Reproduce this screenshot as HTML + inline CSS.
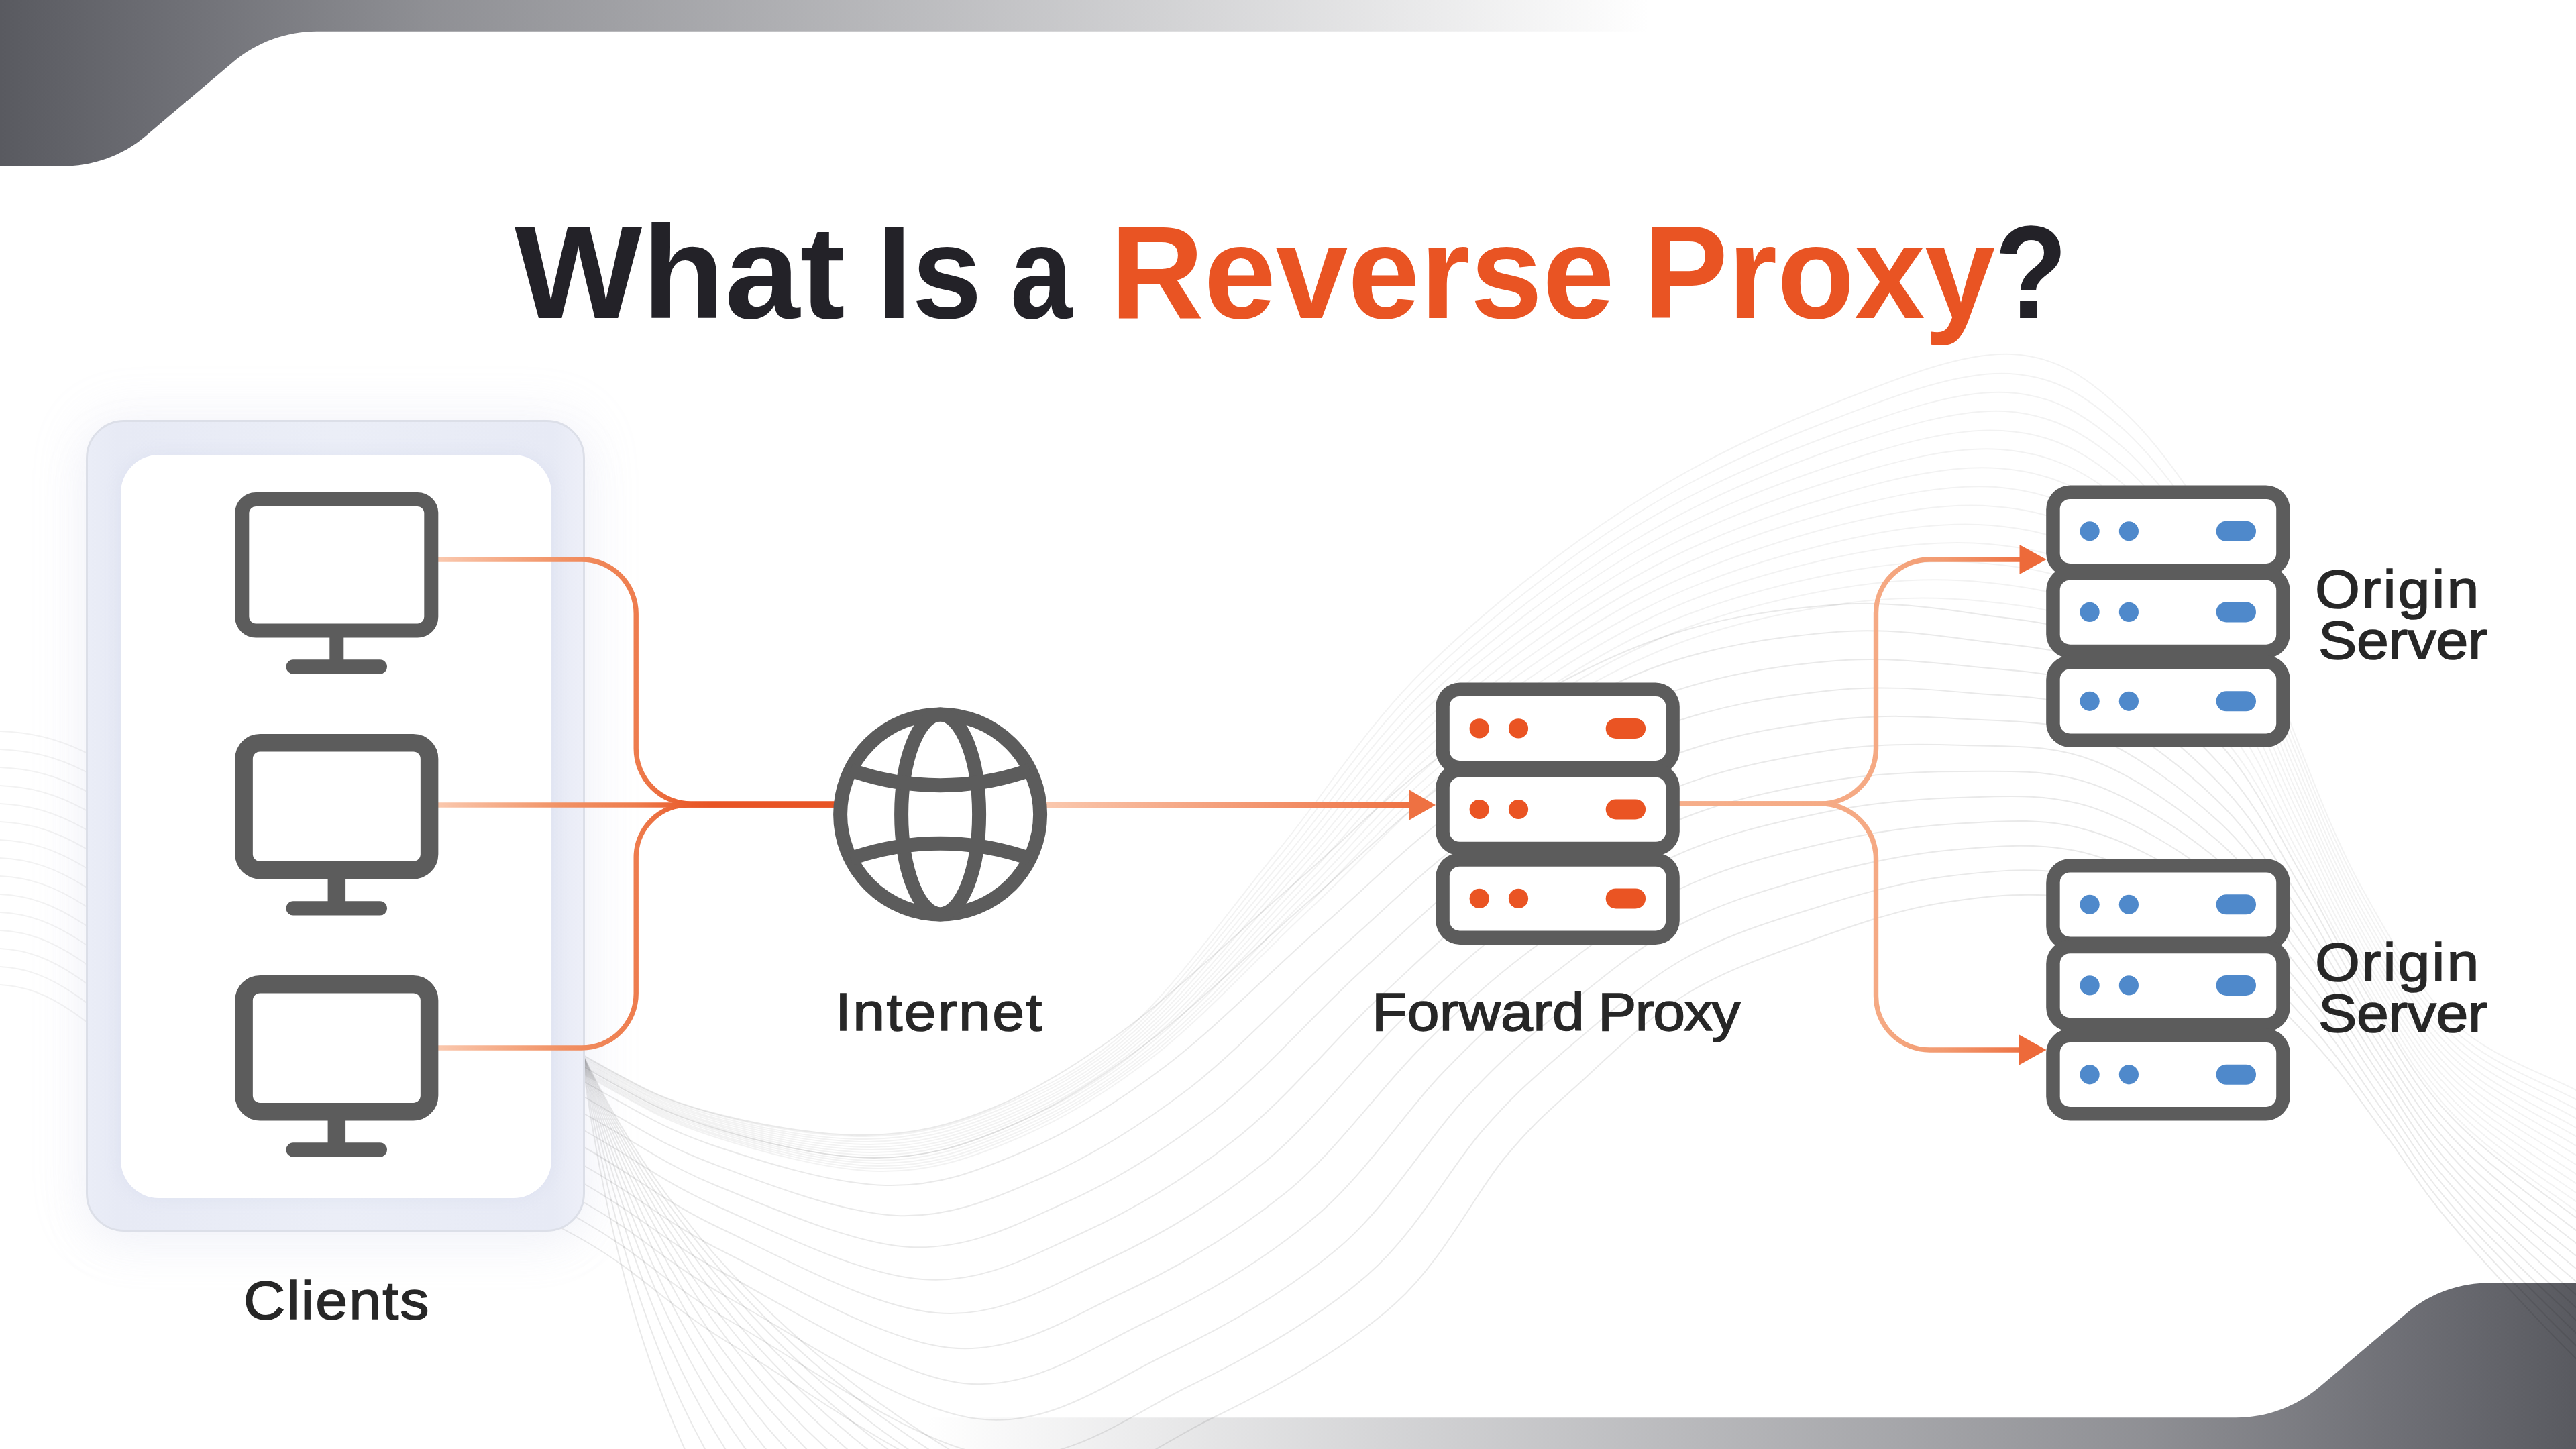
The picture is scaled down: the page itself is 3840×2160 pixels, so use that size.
<!DOCTYPE html>
<html><head><meta charset="utf-8"><title>What Is a Reverse Proxy?</title>
<style>
html,body{margin:0;padding:0;background:#fff;}
body{width:3840px;height:2160px;position:relative;overflow:hidden;font-family:"Liberation Sans",sans-serif;}
svg{position:absolute;left:0;top:0;}
.t{position:absolute;white-space:nowrap;line-height:1;transform-origin:0 0;}
.title{font-weight:bold;font-size:196px;color:#232228;top:0;}
.title.o{color:#e95423;}
.lbl{font-size:80.4px;color:#272727;-webkit-text-stroke:1.6px #272727;}
.outer{position:absolute;left:128.2px;top:625.8px;width:744.2px;height:1210.2px;box-sizing:border-box;border:3.2px solid #dcdfe8;border-radius:57px;
 background:linear-gradient(90deg,#eaedf7 0%,#e7eaf5 6%,#ebeef7 50%,#e7eaf5 94%,#edeff8 100%);
 box-shadow:0 0 70px 12px rgba(200,204,230,0.17),0 26px 70px rgba(200,204,230,0.10);}
.inner{position:absolute;left:179.6px;top:678px;width:642.6px;height:1108px;border-radius:57px;background:#fff;box-shadow:0 0 22px rgba(200,205,232,0.30);}
</style></head>
<body>
<svg width="3840" height="2160" viewBox="0 0 3840 2160">
<defs>
<linearGradient id="gTop" gradientUnits="userSpaceOnUse" x1="0" y1="0" x2="2460" y2="0">
<stop offset="0" stop-color="#595a60"/><stop offset="0.1" stop-color="#5b5c63" stop-opacity="0.89"/><stop offset="0.26" stop-color="#5a5b62" stop-opacity="0.68"/><stop offset="0.6" stop-color="#5a5b62" stop-opacity="0.37"/><stop offset="1" stop-color="#5a5b62" stop-opacity="0"/>
</linearGradient>
<linearGradient id="gBot" gradientUnits="userSpaceOnUse" x1="3840" y1="0" x2="1380" y2="0">
<stop offset="0" stop-color="#595a60"/><stop offset="0.1" stop-color="#5b5c63" stop-opacity="0.89"/><stop offset="0.26" stop-color="#5a5b62" stop-opacity="0.68"/><stop offset="0.6" stop-color="#5a5b62" stop-opacity="0.37"/><stop offset="1" stop-color="#5a5b62" stop-opacity="0"/>
</linearGradient>
</defs>
<path d="M0,0 H2460 V46.7 H472 C427,46.7 382.3,62.9 348,92 L216,203.7 C181.7,232.8 137,247.7 92,247.7 H0 Z" fill="url(#gTop)"/>
<path d="M3840,2160 H1380 V2113.3 H3333 C3378,2113.3 3422.7,2097.1 3457,2068 L3589,1956.3 C3623.3,1927.2 3668,1912.3 3713,1912.3 H3840 Z" fill="url(#gBot)"/>
<g fill="none" stroke="#000" stroke-opacity="0.085" stroke-width="2">
<path d="M560,1380C612,1413 793,1530 875,1576C957,1622 983,1637 1052,1656C1121,1675 1218,1693 1290,1692C1362,1691 1416,1678 1481,1651C1546,1624 1608,1586 1683,1530C1758,1474 1853,1383 1933,1314C2013,1245 2078,1174 2165,1114C2253,1055 2362,993 2456,958C2550,922 2645,909 2728,902C2810,895 2884,906 2952,916C3020,926 3077,927 3138,961C3199,996 3270,1064 3319,1120C3367,1177 3393,1239 3429,1301C3465,1363 3497,1432 3535,1493C3572,1554 3603,1612 3654,1665C3705,1719 3782,1772 3840,1815C3898,1857 3973,1903 4000,1920"/>
<path d="M560,1400C612,1432 792,1547 875,1593C957,1640 984,1656 1055,1678C1126,1701 1229,1726 1303,1726C1378,1726 1434,1709 1502,1680C1569,1652 1633,1613 1708,1556C1783,1500 1875,1409 1954,1341C2032,1274 2094,1207 2179,1150C2263,1093 2369,1032 2460,997C2552,963 2645,950 2726,943C2807,935 2879,946 2947,955C3015,964 3073,964 3135,996C3196,1028 3268,1093 3317,1148C3366,1202 3394,1263 3431,1324C3468,1384 3499,1451 3537,1511C3574,1570 3603,1626 3654,1680C3705,1734 3782,1790 3840,1834C3898,1878 3973,1925 4000,1943"/>
<path d="M560,1425C612,1457 791,1568 875,1615C958,1661 985,1680 1059,1706C1133,1731 1241,1765 1320,1767C1398,1769 1457,1746 1527,1716C1597,1686 1664,1645 1739,1588C1814,1531 1902,1440 1978,1374C2054,1307 2112,1246 2194,1190C2275,1135 2377,1075 2465,1041C2554,1007 2644,993 2724,986C2803,978 2875,987 2943,994C3010,1001 3069,1000 3131,1030C3193,1060 3265,1122 3315,1175C3366,1228 3395,1288 3433,1347C3470,1405 3501,1471 3538,1529C3575,1587 3604,1640 3654,1694C3704,1748 3782,1808 3840,1853C3898,1898 3973,1947 4000,1966"/>
<path d="M560,1452C612,1483 791,1590 874,1637C958,1685 986,1706 1063,1735C1140,1764 1255,1808 1337,1812C1419,1815 1482,1786 1555,1755C1627,1723 1697,1680 1772,1623C1847,1565 1931,1473 2004,1409C2077,1344 2132,1287 2210,1233C2287,1180 2385,1120 2470,1086C2556,1052 2644,1039 2722,1030C2800,1021 2870,1027 2938,1033C3005,1039 3065,1036 3128,1065C3190,1093 3263,1151 3314,1202C3365,1253 3396,1312 3434,1369C3472,1427 3504,1490 3540,1547C3577,1603 3604,1655 3654,1709C3704,1763 3782,1826 3840,1872C3898,1919 3973,1969 4000,1988"/>
<path d="M560,1480C612,1510 790,1614 874,1662C959,1709 987,1734 1067,1767C1147,1799 1270,1854 1356,1859C1442,1863 1508,1829 1583,1795C1659,1762 1732,1717 1807,1659C1882,1601 1962,1508 2032,1445C2101,1382 2152,1330 2226,1278C2300,1226 2393,1167 2476,1133C2558,1099 2644,1085 2720,1075C2796,1064 2866,1068 2933,1072C3000,1076 3061,1073 3124,1099C3187,1125 3260,1181 3312,1229C3364,1278 3397,1336 3436,1392C3474,1448 3506,1509 3542,1565C3578,1620 3604,1669 3654,1723C3704,1778 3782,1843 3840,1891C3898,1939 3973,1991 4000,2011"/>
<path d="M560,1509C612,1539 789,1638 874,1687C959,1735 988,1762 1071,1799C1155,1836 1284,1901 1375,1907C1465,1914 1535,1873 1613,1838C1692,1802 1769,1756 1843,1697C1918,1638 1993,1545 2060,1483C2127,1421 2173,1374 2243,1324C2313,1274 2402,1215 2481,1181C2560,1147 2643,1132 2718,1120C2792,1108 2861,1109 2928,1111C2996,1113 3057,1109 3121,1134C3184,1158 3257,1210 3310,1257C3363,1304 3398,1361 3437,1415C3476,1469 3508,1529 3544,1583C3580,1636 3605,1683 3654,1738C3703,1793 3782,1861 3840,1910C3898,1960 3973,2013 4000,2034"/>
<path d="M560,1539C612,1568 788,1664 874,1712C959,1761 989,1791 1076,1832C1163,1873 1300,1949 1395,1957C1489,1966 1563,1918 1644,1881C1725,1844 1807,1796 1881,1736C1955,1676 2026,1582 2089,1521C2152,1461 2194,1420 2261,1371C2327,1322 2411,1263 2487,1229C2562,1195 2643,1179 2716,1166C2789,1153 2857,1150 2924,1150C2991,1150 3053,1146 3117,1168C3181,1190 3255,1239 3309,1284C3362,1329 3399,1385 3439,1438C3479,1491 3510,1548 3546,1600C3582,1653 3605,1698 3654,1752C3703,1807 3782,1879 3840,1930C3898,1980 3973,2035 4000,2057"/>
<path d="M560,1570C612,1598 786,1690 873,1739C960,1788 990,1822 1081,1867C1171,1912 1316,1999 1415,2009C1514,2019 1592,1965 1676,1926C1760,1887 1845,1836 1919,1776C1993,1715 2059,1620 2119,1561C2179,1501 2216,1466 2278,1419C2341,1372 2420,1313 2492,1278C2565,1244 2642,1227 2714,1212C2785,1197 2852,1191 2919,1189C2986,1187 3049,1182 3114,1202C3178,1223 3252,1268 3307,1311C3361,1354 3400,1409 3441,1461C3481,1512 3512,1567 3548,1618C3583,1669 3605,1712 3654,1767C3703,1822 3782,1897 3840,1949C3898,2001 3973,2057 4000,2079"/>
<path d="M560,1602C612,1629 785,1716 873,1766C960,1816 992,1852 1085,1901C1179,1951 1332,2050 1436,2062C1539,2073 1621,2012 1708,1971C1796,1930 1885,1878 1958,1816C2032,1755 2093,1659 2149,1601C2205,1543 2238,1513 2296,1467C2354,1422 2429,1363 2498,1328C2567,1294 2642,1275 2711,1259C2781,1242 2848,1232 2914,1228C2981,1224 3045,1218 3110,1237C3176,1255 3250,1297 3305,1338C3360,1379 3401,1434 3442,1484C3483,1533 3514,1587 3549,1636C3585,1686 3606,1726 3654,1781C3702,1837 3782,1914 3840,1968C3898,2021 3973,2080 4000,2102"/>
<path d="M560,1634C612,1661 784,1743 873,1794C961,1844 993,1883 1090,1937C1187,1991 1348,2102 1457,2115C1565,2129 1651,2061 1741,2018C1832,1975 1925,1920 1998,1858C2071,1795 2127,1699 2180,1642C2233,1585 2261,1560 2315,1517C2369,1473 2438,1414 2503,1379C2569,1344 2642,1324 2709,1305C2777,1287 2843,1273 2909,1267C2976,1261 3041,1255 3107,1271C3173,1288 3247,1326 3303,1366C3360,1405 3402,1458 3444,1506C3485,1554 3516,1606 3551,1654C3586,1702 3606,1741 3654,1796C3702,1851 3782,1932 3840,1987C3898,2042 3973,2102 4000,2125"/>
<path d="M560,1667C612,1693 783,1770 872,1822C961,1873 994,1915 1095,1973C1196,2031 1365,2154 1478,2170C1592,2185 1682,2110 1775,2065C1868,2020 1966,1964 2039,1900C2112,1837 2162,1739 2211,1684C2260,1628 2284,1609 2333,1566C2383,1524 2447,1465 2509,1430C2572,1394 2641,1373 2707,1353C2773,1332 2839,1314 2905,1306C2971,1298 3037,1291 3103,1306C3170,1320 3245,1356 3302,1393C3359,1430 3403,1483 3445,1529C3487,1576 3518,1625 3553,1672C3588,1719 3606,1755 3654,1810C3702,1866 3782,1950 3840,2006C3898,2062 3973,2124 4000,2147"/>
<path d="M560,1700C612,1725 782,1798 872,1850C962,1902 995,1948 1100,2010C1205,2072 1382,2208 1500,2225C1618,2242 1712,2160 1809,2113C1906,2066 2008,2008 2080,1943C2152,1878 2198,1780 2243,1726C2288,1672 2307,1658 2352,1617C2397,1576 2456,1517 2515,1481C2574,1445 2641,1423 2705,1400C2769,1377 2834,1355 2900,1345C2966,1335 3033,1328 3100,1340C3167,1352 3242,1385 3300,1420C3358,1455 3404,1507 3447,1552C3490,1597 3520,1644 3555,1690C3590,1736 3606,1769 3654,1825C3702,1881 3782,1968 3840,2025C3898,2082 3973,2146 4000,2170"/>
<path stroke-opacity="0.05" d="M560,1381C612,1414 793,1531 875,1577C957,1623 983,1638 1052,1657C1121,1677 1219,1695 1291,1694C1362,1693 1417,1680 1482,1653C1548,1626 1615,1595 1684,1532C1754,1468 1829,1361 1902,1272C1975,1184 2034,1086 2122,999C2211,912 2329,818 2433,752C2536,685 2647,635 2742,598C2836,561 2927,525 2999,528C3071,532 3116,566 3172,619C3228,673 3295,774 3336,850C3376,926 3383,996 3413,1074C3443,1151 3476,1240 3516,1315C3557,1389 3600,1469 3654,1521C3708,1573 3782,1596 3840,1625C3898,1654 3973,1683 4000,1695"/>
<path stroke-opacity="0.05" d="M560,1384C612,1416 793,1533 875,1579C957,1625 983,1640 1053,1660C1122,1680 1220,1699 1292,1698C1364,1697 1419,1683 1485,1656C1551,1629 1617,1598 1687,1535C1758,1472 1833,1366 1906,1278C1979,1191 2039,1095 2127,1010C2215,925 2332,834 2435,769C2537,704 2647,657 2741,622C2834,586 2924,553 2996,557C3067,561 3113,592 3170,644C3226,697 3294,795 3334,870C3375,944 3384,1014 3415,1091C3445,1167 3478,1254 3518,1328C3558,1401 3600,1480 3654,1532C3708,1584 3782,1609 3840,1639C3898,1669 3973,1699 4000,1711"/>
<path stroke-opacity="0.05" d="M560,1386C612,1419 793,1535 875,1581C957,1627 983,1642 1053,1663C1123,1683 1222,1702 1294,1702C1366,1701 1421,1687 1487,1660C1553,1632 1620,1600 1690,1538C1761,1475 1837,1370 1911,1284C1984,1198 2043,1105 2131,1022C2219,939 2335,849 2437,786C2538,724 2647,679 2740,645C2832,612 2921,581 2992,585C3063,589 3110,619 3167,669C3224,720 3292,816 3333,889C3375,962 3385,1032 3416,1107C3447,1182 3479,1268 3519,1341C3559,1413 3601,1490 3654,1542C3707,1594 3782,1622 3840,1653C3898,1684 3973,1715 4000,1728"/>
<path stroke-opacity="0.05" d="M560,1388C612,1421 793,1537 875,1583C957,1629 983,1645 1053,1665C1123,1686 1223,1706 1296,1706C1368,1706 1423,1691 1490,1663C1556,1636 1623,1603 1693,1541C1764,1479 1841,1375 1915,1290C1989,1205 2048,1114 2135,1033C2222,952 2338,864 2439,804C2539,743 2647,700 2738,668C2830,637 2918,609 2989,613C3060,618 3108,645 3165,694C3222,744 3290,838 3332,909C3374,981 3385,1050 3417,1124C3448,1198 3481,1282 3520,1354C3560,1425 3601,1501 3654,1553C3707,1605 3782,1635 3840,1667C3898,1699 3973,1731 4000,1744"/>
<path stroke-opacity="0.05" d="M560,1391C612,1423 793,1539 875,1585C957,1631 983,1647 1054,1668C1124,1689 1224,1710 1297,1710C1370,1710 1426,1694 1492,1667C1559,1639 1625,1606 1696,1544C1768,1482 1846,1379 1919,1296C1993,1212 2052,1123 2139,1044C2226,965 2341,880 2440,821C2540,762 2647,722 2737,692C2828,662 2914,637 2985,642C3056,646 3105,671 3162,719C3220,767 3288,859 3331,929C3373,999 3386,1067 3418,1140C3450,1213 3482,1296 3522,1367C3561,1437 3601,1511 3654,1563C3707,1616 3782,1648 3840,1681C3898,1713 3973,1747 4000,1761"/>
<path stroke-opacity="0.05" d="M560,1393C612,1426 793,1541 875,1587C957,1634 983,1649 1054,1671C1125,1692 1225,1714 1299,1714C1372,1714 1428,1698 1495,1670C1561,1642 1628,1608 1699,1547C1771,1486 1850,1384 1924,1302C1998,1220 2057,1133 2144,1056C2230,978 2344,895 2442,838C2541,782 2646,743 2736,715C2826,687 2911,665 2982,670C3052,675 3102,698 3160,744C3218,791 3286,880 3329,949C3373,1017 3387,1085 3419,1157C3451,1229 3484,1310 3523,1380C3562,1449 3601,1521 3654,1574C3707,1626 3782,1661 3840,1694C3898,1728 3973,1763 4000,1777"/>
<path stroke-opacity="0.05" d="M560,1396C612,1428 792,1543 875,1589C957,1636 983,1652 1054,1673C1125,1695 1226,1718 1300,1718C1374,1718 1430,1701 1497,1674C1564,1646 1630,1611 1702,1550C1774,1489 1854,1388 1928,1307C2002,1227 2062,1142 2148,1067C2234,992 2346,910 2444,856C2542,801 2646,765 2735,739C2824,712 2908,693 2978,698C3049,703 3099,724 3157,769C3216,814 3284,901 3328,968C3372,1036 3388,1103 3420,1173C3453,1244 3485,1324 3524,1393C3563,1461 3601,1532 3654,1584C3707,1637 3782,1673 3840,1708C3898,1743 3973,1779 4000,1794"/>
<path stroke-opacity="0.05" d="M560,1398C612,1430 792,1545 875,1591C957,1638 984,1654 1055,1676C1126,1698 1228,1722 1302,1722C1376,1722 1432,1705 1499,1677C1567,1649 1633,1614 1705,1553C1778,1493 1858,1393 1933,1313C2007,1234 2066,1152 2152,1078C2238,1005 2349,926 2446,873C2543,820 2646,786 2734,762C2822,738 2905,721 2975,726C3045,732 3096,751 3155,794C3213,838 3283,922 3327,988C3371,1054 3388,1120 3422,1190C3455,1260 3487,1338 3526,1406C3565,1473 3602,1542 3654,1595C3706,1648 3782,1686 3840,1722C3898,1758 3973,1795 4000,1810"/>
<path stroke-opacity="0.05" d="M560,1400C612,1433 792,1547 875,1593C957,1640 984,1656 1055,1679C1126,1701 1229,1726 1303,1726C1378,1726 1434,1709 1502,1680C1569,1652 1636,1617 1708,1556C1781,1496 1862,1397 1937,1319C2012,1241 2071,1161 2156,1090C2241,1018 2352,941 2448,890C2544,840 2646,808 2733,785C2820,763 2902,749 2972,755C3041,760 3093,777 3152,819C3211,861 3281,943 3326,1008C3371,1072 3389,1138 3423,1206C3456,1275 3489,1352 3527,1419C3566,1485 3602,1553 3654,1605C3706,1658 3782,1699 3840,1736C3898,1773 3973,1811 4000,1827"/>
<path stroke-opacity="0.05" d="M560,1403C612,1435 792,1549 875,1596C957,1642 984,1659 1055,1681C1127,1704 1230,1730 1305,1730C1380,1730 1437,1712 1504,1684C1572,1655 1638,1619 1711,1559C1784,1500 1867,1401 1941,1325C2016,1249 2076,1171 2160,1101C2245,1031 2355,956 2450,908C2546,859 2646,830 2732,809C2818,788 2898,777 2968,783C3038,789 3090,803 3150,844C3209,885 3279,965 3325,1028C3370,1091 3390,1156 3424,1223C3458,1290 3490,1366 3528,1432C3567,1497 3602,1563 3654,1616C3706,1669 3782,1712 3840,1750C3898,1788 3973,1828 4000,1843"/>
<path stroke-opacity="0.05" d="M560,1405C612,1437 792,1551 875,1598C957,1644 984,1661 1056,1684C1128,1707 1231,1733 1307,1734C1382,1735 1439,1716 1507,1687C1575,1659 1641,1622 1714,1563C1787,1503 1871,1406 1946,1331C2021,1256 2080,1180 2165,1112C2249,1045 2358,972 2452,925C2547,878 2646,851 2731,832C2816,813 2895,805 2965,811C3034,817 3087,830 3147,869C3207,908 3277,986 3323,1047C3370,1109 3391,1173 3425,1240C3459,1306 3492,1380 3530,1445C3568,1509 3602,1573 3654,1626C3706,1680 3782,1725 3840,1764C3898,1803 3973,1844 4000,1860"/>
<path stroke-opacity="0.05" d="M560,1408C612,1440 792,1553 875,1600C957,1646 984,1663 1056,1687C1128,1710 1233,1737 1308,1738C1384,1739 1441,1720 1509,1691C1577,1662 1644,1625 1717,1566C1791,1507 1875,1410 1950,1337C2025,1263 2085,1189 2169,1124C2253,1058 2361,987 2454,942C2548,898 2645,873 2730,856C2814,839 2892,833 2961,840C3030,846 3085,856 3145,894C3205,932 3275,1007 3322,1067C3369,1128 3391,1191 3426,1256C3461,1321 3493,1394 3531,1458C3569,1521 3603,1584 3654,1637C3705,1690 3782,1738 3840,1778C3898,1817 3973,1860 4000,1876"/>
<path stroke-opacity="0.05" d="M560,1410C612,1442 792,1555 875,1602C957,1648 984,1666 1056,1689C1129,1713 1234,1741 1310,1742C1386,1743 1443,1723 1512,1694C1580,1665 1646,1627 1720,1569C1794,1510 1879,1415 1955,1343C2030,1270 2089,1199 2173,1135C2257,1071 2363,1002 2456,960C2549,917 2645,894 2729,879C2812,864 2889,861 2958,868C3027,875 3082,883 3142,919C3203,956 3273,1028 3321,1087C3368,1146 3392,1209 3427,1273C3463,1337 3495,1408 3532,1471C3570,1533 3603,1594 3654,1647C3705,1701 3782,1751 3840,1791C3898,1832 3973,1876 4000,1892"/>
<path stroke-opacity="0.05" d="M560,1412C612,1444 792,1557 875,1604C958,1650 984,1668 1057,1692C1130,1716 1235,1745 1311,1746C1387,1747 1446,1727 1514,1698C1583,1669 1649,1630 1723,1572C1797,1514 1883,1419 1959,1349C2035,1278 2094,1208 2177,1146C2260,1084 2366,1017 2458,977C2550,936 2645,916 2728,903C2810,889 2886,889 2954,896C3023,903 3079,909 3140,944C3201,979 3271,1049 3320,1107C3368,1164 3393,1226 3429,1289C3464,1352 3496,1422 3534,1484C3571,1545 3603,1604 3654,1658C3705,1712 3782,1763 3840,1805C3898,1847 3973,1892 4000,1909"/>
<path d="M866,1566 Q918,1959 1040,2200"/>
<path d="M866,1566 Q928,1959 1074,2200"/>
<path d="M866,1566 Q939,1959 1108,2200"/>
<path d="M866,1566 Q949,1959 1142,2200"/>
<path d="M866,1566 Q959,1959 1176,2200"/>
<path d="M866,1566 Q969,1959 1210,2200"/>
<path d="M866,1566 Q979,1959 1244,2200"/>
<path d="M866,1566 Q990,1959 1278,2200"/>
<path d="M866,1566 Q1000,1959 1312,2200"/>
<path d="M866,1566 Q1010,1959 1346,2200"/>
<path d="M866,1566 Q1020,1959 1380,2200"/>
<path d="M866,1566 Q1030,1959 1414,2200"/>
<path d="M866,1566 Q1041,1959 1448,2200"/>
<path d="M866,1566 Q1051,1959 1482,2200"/>
<path stroke-opacity="0.05" d="M0,1090 C90,1094 150,1120 300,1240"/>
<path stroke-opacity="0.05" d="M0,1117 C90,1121 150,1150 300,1271"/>
<path stroke-opacity="0.05" d="M0,1144 C90,1148 150,1180 300,1302"/>
<path stroke-opacity="0.05" d="M0,1171 C90,1175 150,1210 300,1333"/>
<path stroke-opacity="0.05" d="M0,1198 C90,1202 150,1240 300,1364"/>
<path stroke-opacity="0.05" d="M0,1225 C90,1229 150,1270 300,1395"/>
<path stroke-opacity="0.05" d="M0,1252 C90,1256 150,1300 300,1426"/>
<path stroke-opacity="0.05" d="M0,1279 C90,1283 150,1330 300,1457"/>
<path stroke-opacity="0.05" d="M0,1306 C90,1310 150,1360 300,1488"/>
<path stroke-opacity="0.05" d="M0,1333 C90,1337 150,1390 300,1519"/>
<path stroke-opacity="0.05" d="M0,1360 C90,1364 150,1420 300,1550"/>
<path stroke-opacity="0.05" d="M0,1387 C90,1391 150,1450 300,1581"/>
<path stroke-opacity="0.05" d="M0,1414 C90,1418 150,1480 300,1612"/>
<path stroke-opacity="0.05" d="M0,1441 C90,1445 150,1510 300,1643"/>
<path stroke-opacity="0.05" d="M0,1468 C90,1472 150,1540 300,1674"/>
</g>
</svg>
<div class="outer"></div>
<div class="inner"></div>
<svg width="3840" height="2160" viewBox="0 0 3840 2160">
<defs>
<linearGradient id="gL" gradientUnits="userSpaceOnUse" x1="653" y1="0" x2="1060" y2="0">
<stop offset="0" stop-color="#fac8ae"/><stop offset="0.45" stop-color="#f19164"/><stop offset="0.72" stop-color="#ee7d4e"/><stop offset="0.93" stop-color="#e95a2a"/><stop offset="1" stop-color="#e85425"/>
</linearGradient>
<linearGradient id="gM" gradientUnits="userSpaceOnUse" x1="1560" y1="0" x2="2140" y2="0">
<stop offset="0" stop-color="#fac8ae"/><stop offset="1" stop-color="#ed6c3c"/>
</linearGradient>
<linearGradient id="gR" gradientUnits="userSpaceOnUse" x1="2504" y1="0" x2="3050" y2="0">
<stop offset="0" stop-color="#f6ae8a"/><stop offset="0.55" stop-color="#f5a983"/><stop offset="0.72" stop-color="#f29a70"/><stop offset="1" stop-color="#ec6636"/>
</linearGradient>
</defs>
<g fill="none" stroke="url(#gL)" stroke-width="7.4">
<path d="M650,834 H867 A81,81 0 0 1 948.2,915 V1116 A82,82 0 0 0 1030,1198 H1245"/>
<path d="M650,1200 H1245"/>
<path d="M650,1562 H867 A81,81 0 0 0 948.2,1481 V1278 A78,78 0 0 1 1026,1200 H1245"/>
</g>
<path d="M1558,1200 H2102" fill="none" stroke="url(#gM)" stroke-width="8"/>
<path d="M2100,1177 L2140,1200 L2100,1223 Z" fill="#ee7142"/>
<g fill="none" stroke="url(#gR)" stroke-width="7.4">
<path d="M2500,1198 H2714 A82,82 0 0 0 2796.5,1116 V914 A80,80 0 0 1 2876.5,834 H3012"/>
<path d="M2500,1198 H2714 A82,82 0 0 1 2796.5,1280 V1485 A80,80 0 0 0 2876.5,1565 H3012"/>
</g>
<path d="M3010.5,812 L3050.5,834 L3010.5,856 Z" fill="#ed6a3a"/>
<path d="M3010,1542.5 L3050.5,1565 L3010,1587.5 Z" fill="#ed6a3a"/>
<rect x="360.8" y="744.5" width="282.0" height="195.5" rx="20.5" fill="#fff" stroke="#5c5c5c" stroke-width="21"/>
<rect x="491.3" y="948.5" width="21" height="36" fill="#5c5c5c"/>
<rect x="426.5" y="983.3" width="150.6" height="21.2" rx="10.6" fill="#5c5c5c"/>
<rect x="363.6" y="1107.2" width="276.5" height="190.0" rx="24.0" fill="#fff" stroke="#5c5c5c" stroke-width="26.5"/>
<rect x="488.6" y="1308.5" width="26.5" height="36" fill="#5c5c5c"/>
<rect x="426.5" y="1343.3" width="150.6" height="21.2" rx="10.6" fill="#5c5c5c"/>
<rect x="363.6" y="1467.2" width="276.5" height="190.0" rx="24.0" fill="#fff" stroke="#5c5c5c" stroke-width="26.5"/>
<rect x="488.6" y="1668.5" width="26.5" height="36" fill="#5c5c5c"/>
<rect x="426.5" y="1703.3" width="150.6" height="21.2" rx="10.6" fill="#5c5c5c"/>
<g fill="none" stroke="#5c5c5c" stroke-width="21">
<circle cx="1401.6" cy="1213.9" r="149" fill="#fff"/>
<ellipse cx="1401.6" cy="1213.9" rx="58" ry="149"/>
<path d="M1268.0,1147.9 A404,404 0 0 0 1535.2,1147.9"/>
<path d="M1268.0,1279.9 A404,404 0 0 1 1535.2,1279.9"/>
</g>
<rect x="2140.3" y="1017.5" width="363.5" height="137.0" rx="36" fill="#5c5c5c"/>
<rect x="2140.3" y="1138.3" width="363.5" height="137.0" rx="36" fill="#5c5c5c"/>
<rect x="2140.3" y="1271.2" width="363.5" height="136.8" rx="36" fill="#5c5c5c"/>
<rect x="2160.8" y="1038.0" width="322.5" height="96.0" rx="15" fill="#fff"/>
<rect x="2160.8" y="1158.8" width="322.5" height="96.0" rx="15" fill="#fff"/>
<rect x="2160.8" y="1291.7" width="322.5" height="95.8" rx="15" fill="#fff"/>
<circle cx="2205.2" cy="1085.9" r="14.6" fill="#ea5423"/>
<circle cx="2263.5" cy="1085.9" r="14.6" fill="#ea5423"/>
<rect x="2393.7" y="1070.9" width="59.4" height="30" rx="15" fill="#ea5423"/>
<circle cx="2205.2" cy="1206.5" r="14.6" fill="#ea5423"/>
<circle cx="2263.5" cy="1206.5" r="14.6" fill="#ea5423"/>
<rect x="2393.7" y="1191.5" width="59.4" height="30" rx="15" fill="#ea5423"/>
<circle cx="2205.2" cy="1339.4" r="14.6" fill="#ea5423"/>
<circle cx="2263.5" cy="1339.4" r="14.6" fill="#ea5423"/>
<rect x="2393.7" y="1324.4" width="59.4" height="30" rx="15" fill="#ea5423"/>
<rect x="3050.2" y="723.4" width="363.5" height="137.0" rx="36" fill="#5c5c5c"/>
<rect x="3050.2" y="844.2" width="363.5" height="137.0" rx="36" fill="#5c5c5c"/>
<rect x="3050.2" y="977.1" width="363.5" height="136.8" rx="36" fill="#5c5c5c"/>
<rect x="3070.7" y="743.9" width="322.5" height="96.0" rx="15" fill="#fff"/>
<rect x="3070.7" y="864.7" width="322.5" height="96.0" rx="15" fill="#fff"/>
<rect x="3070.7" y="997.6" width="322.5" height="95.8" rx="15" fill="#fff"/>
<circle cx="3115.1" cy="791.8" r="14.6" fill="#4f89cb"/>
<circle cx="3173.4" cy="791.8" r="14.6" fill="#4f89cb"/>
<rect x="3303.6" y="776.8" width="59.4" height="30" rx="15" fill="#4f89cb"/>
<circle cx="3115.1" cy="912.4" r="14.6" fill="#4f89cb"/>
<circle cx="3173.4" cy="912.4" r="14.6" fill="#4f89cb"/>
<rect x="3303.6" y="897.4" width="59.4" height="30" rx="15" fill="#4f89cb"/>
<circle cx="3115.1" cy="1045.3" r="14.6" fill="#4f89cb"/>
<circle cx="3173.4" cy="1045.3" r="14.6" fill="#4f89cb"/>
<rect x="3303.6" y="1030.3" width="59.4" height="30" rx="15" fill="#4f89cb"/>
<rect x="3050.2" y="1279.9" width="363.5" height="137.0" rx="36" fill="#5c5c5c"/>
<rect x="3050.2" y="1400.7" width="363.5" height="137.0" rx="36" fill="#5c5c5c"/>
<rect x="3050.2" y="1533.6" width="363.5" height="136.8" rx="36" fill="#5c5c5c"/>
<rect x="3070.7" y="1300.4" width="322.5" height="96.0" rx="15" fill="#fff"/>
<rect x="3070.7" y="1421.2" width="322.5" height="96.0" rx="15" fill="#fff"/>
<rect x="3070.7" y="1554.1" width="322.5" height="95.8" rx="15" fill="#fff"/>
<circle cx="3115.1" cy="1348.3" r="14.6" fill="#4f89cb"/>
<circle cx="3173.4" cy="1348.3" r="14.6" fill="#4f89cb"/>
<rect x="3303.6" y="1333.3" width="59.4" height="30" rx="15" fill="#4f89cb"/>
<circle cx="3115.1" cy="1468.9" r="14.6" fill="#4f89cb"/>
<circle cx="3173.4" cy="1468.9" r="14.6" fill="#4f89cb"/>
<rect x="3303.6" y="1453.9" width="59.4" height="30" rx="15" fill="#4f89cb"/>
<circle cx="3115.1" cy="1601.8" r="14.6" fill="#4f89cb"/>
<circle cx="3173.4" cy="1601.8" r="14.6" fill="#4f89cb"/>
<rect x="3303.6" y="1586.8" width="59.4" height="30" rx="15" fill="#4f89cb"/>
</svg>
<div class="t title" id="w1" style="left:767.00px;top:308.79px;letter-spacing:0.00px;transform:scaleX(1.0283)">What</div>
<div class="t title" id="w2" style="left:1307.00px;top:308.79px;letter-spacing:0.00px;transform:scaleX(0.9577)">Is</div>
<div class="t title" id="w3" style="left:1506.00px;top:308.79px;letter-spacing:0.00px;transform:scaleX(0.8510)">a</div>
<div class="t title o" id="w4" style="left:1655.40px;top:308.79px;letter-spacing:0.00px;transform:scaleX(0.9852)">Reverse</div>
<div class="t title o" id="w5" style="left:2450.20px;top:308.79px;letter-spacing:0.00px;transform:scaleX(0.9623)">Proxy</div>
<div class="t title" id="w6" style="left:2973.20px;top:308.79px;letter-spacing:0.00px;transform:scaleX(0.9091)">?</div>
<div class="t lbl" id="l1" style="left:362.50px;top:1897.64px;letter-spacing:2.12px;transform:scaleX(1.0700)">Clients</div>
<div class="t lbl" id="l2" style="left:1245.30px;top:1467.84px;letter-spacing:2.24px;transform:scaleX(1.0700)">Internet</div>
<div class="t lbl" id="l3" style="left:2044.90px;top:1467.84px;letter-spacing:0.22px;transform:scaleX(1.0700)">Forward</div>
<div class="t lbl" id="l3b" style="left:2382.20px;top:1467.84px;letter-spacing:-1.73px;transform:scaleX(1.0700)">Proxy</div>
<div class="t lbl" id="l4" style="left:3450.90px;top:837.84px;letter-spacing:2.77px;transform:scaleX(1.0700)">Origin</div>
<div class="t lbl" id="l5" style="left:3455.70px;top:913.84px;letter-spacing:-0.34px;transform:scaleX(1.0700)">Server</div>
<div class="t lbl" id="l6" style="left:3450.90px;top:1393.84px;letter-spacing:2.77px;transform:scaleX(1.0700)">Origin</div>
<div class="t lbl" id="l7" style="left:3455.70px;top:1469.84px;letter-spacing:-0.34px;transform:scaleX(1.0700)">Server</div>
</body></html>
